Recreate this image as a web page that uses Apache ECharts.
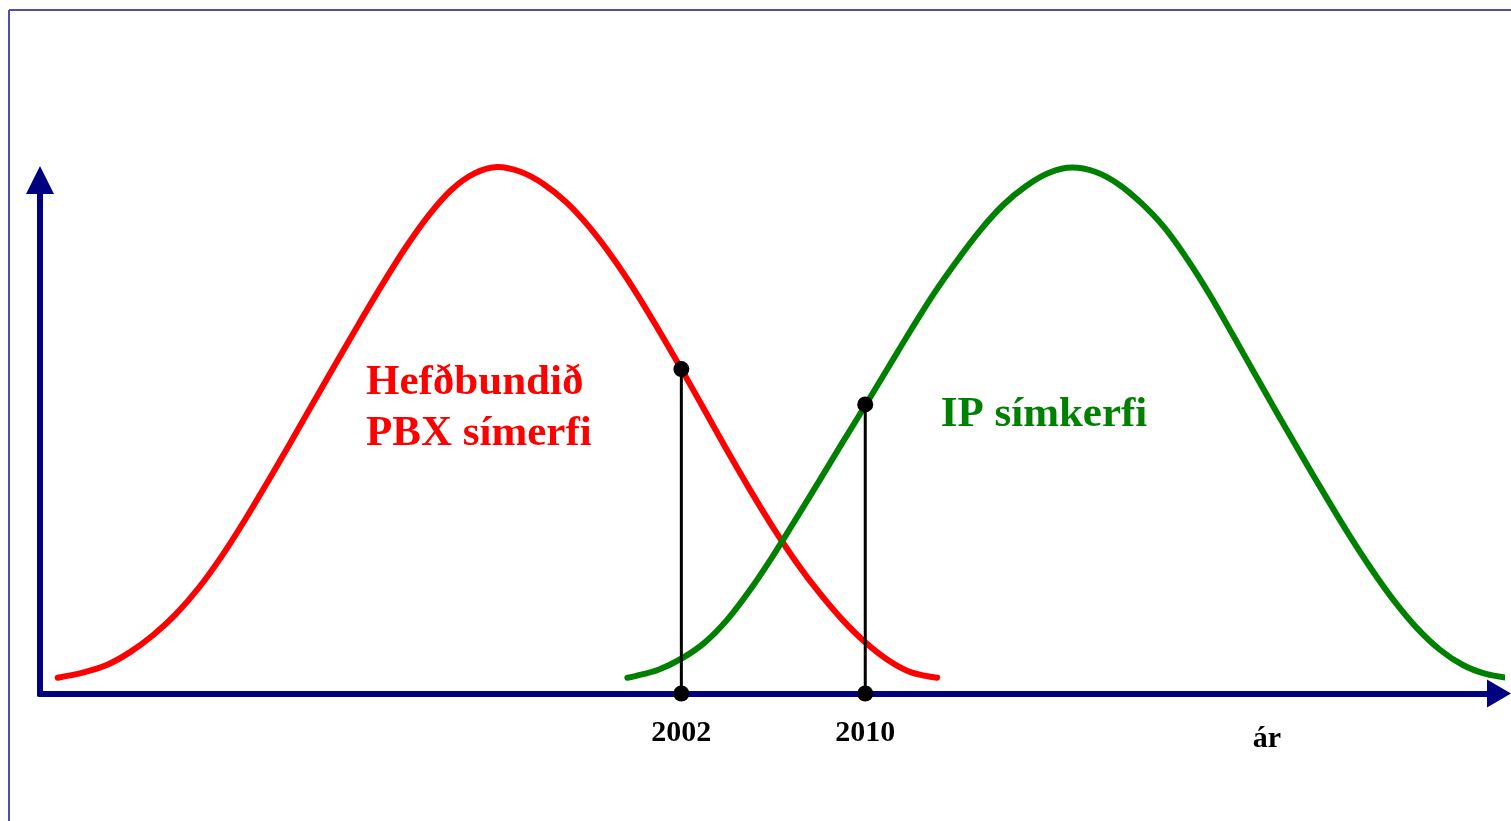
<!DOCTYPE html>
<html>
<head>
<meta charset="utf-8">
<script src="https://cdn.jsdelivr.net/npm/echarts@6/dist/echarts.min.js"></script>
<style>
  html, body { margin: 0; padding: 0; background: #ffffff; }
  #chart { width: 1511px; height: 821px; }
</style>
</head>
<body>
<div id="chart"></div>
<script>
// ---- data (x = year, y = share 0..100 of curve height) ----
const redYears   = [1974.87, 1976, 1977, 1978, 1979, 1980, 1981, 1982, 1983, 1984, 1985, 1986, 1987, 1988, 1989, 1990, 1991, 1992, 1993, 1994, 1995, 1996, 1997, 1998, 1999, 2000, 2001, 2002, 2003, 2004, 2005, 2006, 2007, 2008, 2009, 2010, 2011, 2012, 2013.13];
const redValues  = [3.0, 4.0, 5.4, 7.8, 11.0, 15.0, 20.0, 26.0, 32.8, 40.1, 47.6, 55.2, 62.8, 70.3, 77.6, 84.5, 90.6, 95.5, 98.6, 99.8, 98.9, 96.6, 93.1, 88.4, 82.7, 76.2, 69.0, 61.5, 53.8, 46.0, 38.5, 31.4, 24.9, 19.1, 14.0, 9.7, 6.3, 4.0, 3.0];

const greenYears  = [1999.65, 2000, 2001, 2002, 2003, 2004, 2005, 2006, 2007, 2008, 2009, 2010, 2011, 2012, 2013, 2014, 2015, 2016, 2017, 2018, 2019, 2020, 2021, 2022, 2023, 2024, 2025, 2026, 2027, 2028, 2029, 2030, 2031, 2032, 2033, 2034, 2035, 2036, 2037, 2037.91];
const greenValues = [3.0, 3.3, 4.5, 6.6, 9.6, 14.0, 19.7, 26.2, 33.2, 40.3, 47.5, 54.6, 61.8, 69.0, 75.9, 82.1, 87.8, 92.6, 96.2, 98.7, 99.7, 98.9, 96.6, 93.0, 88.4, 82.4, 75.5, 67.9, 60.2, 52.5, 45.0, 37.6, 30.4, 23.7, 17.6, 12.4, 8.3, 5.4, 3.7, 3.0];

const markerYears  = [2002, 2010];
const markerValues = [61.5, 54.8];

const tickLabels = [2002, 2010];
const axisName = 'ár';
const redName = 'Hefðbundið\nPBX símerfi';
const greenName = 'IP símkerfi';

// ---- chart ----
const zip = (xs, ys) => xs.map((x, i) => [x, ys[i]]);
const FONT = '"Liberation Serif", "Times New Roman", serif';
const NAVY = '#000080';

const chart = echarts.init(document.getElementById('chart'), null, { renderer: 'canvas' });

const markerSeries = markerYears.map((yr, i) => ({
  type: 'line',
  data: [[yr, 0], [yr, markerValues[i]]],
  symbol: 'circle',
  symbolSize: 16,
  showSymbol: true,
  showAllSymbol: true,
  clip: false,
  silent: true,
  z: 5,
  lineStyle: { color: '#000000', width: 3 },
  itemStyle: { color: '#000000' }
}));

const curve = (xs, ys, color) => ({
  type: 'line',
  data: zip(xs, ys),
  smooth: 0.33,
  showSymbol: false,
  symbol: 'none',
  clip: false,
  silent: true,
  z: 3,
  lineStyle: { color: color, width: 6, cap: 'round', join: 'round' }
});

chart.setOption({
  animation: false,
  backgroundColor: '#ffffff',
  grid: { left: 40, right: 9, top: 175, bottom: 127.5, containLabel: false },
  xAxis: {
    type: 'value',
    min: 1974.1,
    max: 2037.7,
    splitLine: { show: false },
    axisTick: { show: false },
    axisLine: {
      show: true,
      onZero: false,
      symbol: ['none', 'triangle'],
      symbolSize: [28, 24],
      symbolOffset: [0, -3],
      lineStyle: { color: NAVY, width: 6 }
    },
    axisLabel: {
      customValues: tickLabels,
      formatter: v => String(v),
      margin: 25,
      color: '#000000',
      fontFamily: FONT,
      fontWeight: 'bold',
      fontSize: 30
    }
  },
  yAxis: {
    type: 'value',
    min: 0,
    max: 98.29,
    splitLine: { show: false },
    axisTick: { show: false },
    axisLabel: { show: false },
    axisLine: {
      show: true,
      onZero: false,
      symbol: ['none', 'triangle'],
      symbolSize: [28, 28],
      symbolOffset: [0, -5],
      lineStyle: { color: NAVY, width: 6 }
    }
  },
  series: [
    curve(redYears, redValues, '#ff0000'),
    curve(greenYears, greenValues, '#008000')
  ].concat(markerSeries),
  graphic: [
    { type: 'line', silent: true, shape: { x1: 9, y1: 10, x2: 1511, y2: 10 }, style: { stroke: '#5050a8', lineWidth: 2 } },
    { type: 'line', silent: true, shape: { x1: 9, y1: 10, x2: 9, y2: 821 }, style: { stroke: '#5050a8', lineWidth: 2 } },
    // corner fill so the two axis lines meet squarely
    { type: 'rect', silent: true, z: 1, shape: { x: 37, y: 690.5, width: 6, height: 6 }, style: { fill: NAVY } },
    {
      type: 'text', silent: true, x: 366, y: 357,
      style: {
        text: redName, fill: '#ff0000', fontFamily: FONT, fontWeight: 'bold', fontSize: 43,
        lineHeight: 51, textAlign: 'left', textVerticalAlign: 'top'
      }
    },
    {
      type: 'text', silent: true, x: 1044, y: 415,
      style: {
        text: greenName, fill: '#008000', fontFamily: FONT, fontWeight: 'bold', fontSize: 43,
        lineHeight: 51, textAlign: 'center', textVerticalAlign: 'middle'
      }
    },
    {
      type: 'text', silent: true, x: 1267, y: 739,
      style: {
        text: axisName, fill: '#000000', fontFamily: FONT, fontWeight: 'bold', fontSize: 30,
        textAlign: 'center', textVerticalAlign: 'middle'
      }
    }
  ]
});
</script>
</body>
</html>
